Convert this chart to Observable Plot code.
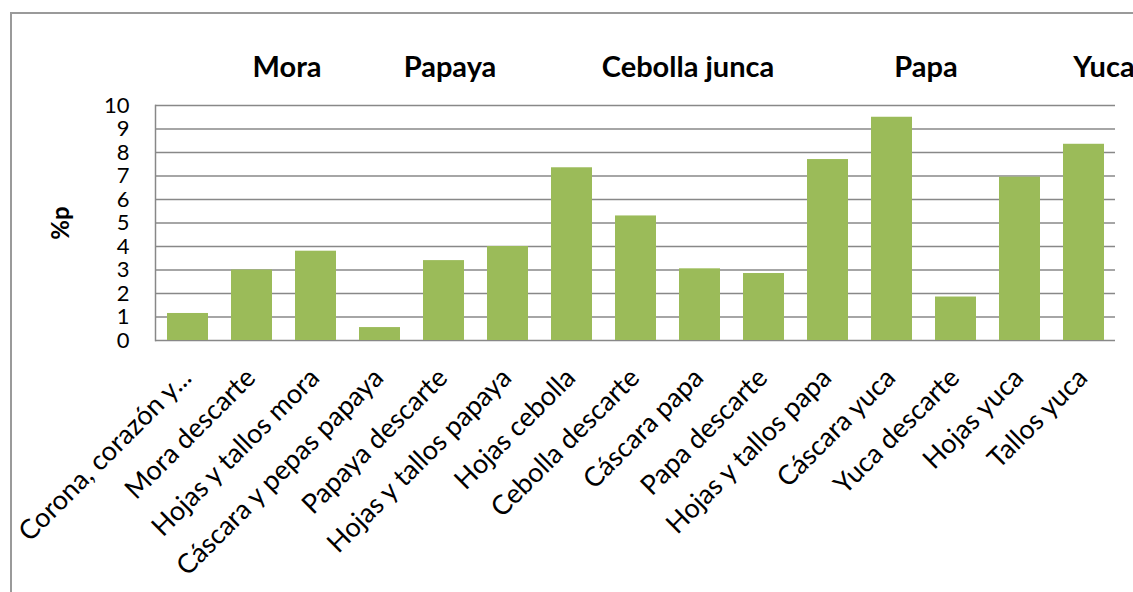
<!DOCTYPE html>
<html>
<head>
<meta charset="utf-8">
<script src="https://cdn.jsdelivr.net/npm/d3@7"></script>
<script src="https://cdn.jsdelivr.net/npm/@observablehq/plot@0.6"></script>
<style>
  html, body { margin: 0; padding: 0; background: #fff; overflow: hidden; }
  #wrap { position: relative; width: 1133px; height: 592px; overflow: hidden; }
  #border { position: absolute; left: 10px; top: 12px; width: 1300px; height: 800px;
            border-left: 2px solid #9a9a9a; border-top: 2px solid #9a9a9a; pointer-events: none; }
  #chart { position: absolute; left: 0; top: 0; }
  svg { overflow: hidden; }
</style>
</head>
<body>
<div id="wrap"><div id="chart"></div><div id="border"></div></div>
<script>
const categories = ["Corona, corazón y...", "Mora descarte", "Hojas y tallos mora", "Cáscara y pepas papaya",
  "Papaya descarte", "Hojas y tallos papaya", "Hojas cebolla", "Cebolla descarte", "Cáscara papa",
  "Papa descarte", "Hojas y tallos papa", "Cáscara yuca", "Yuca descarte", "Hojas yuca", "Tallos yuca"];
const values = [1.15, 3.0, 3.8, 0.55, 3.4, 4.0, 7.35, 5.3, 3.05, 2.85, 7.7, 9.5, 1.85, 6.95, 8.35];
const yTicks = [0, 1, 2, 3, 4, 5, 6, 7, 8, 9, 10];
const groupLabels = ["Mora", "Papaya", "Cebolla junca", "Papa", "Yuca"];
const groupAnchors = ["Mora descarte", "Papaya descarte", "Cebolla descarte", "Hojas y tallos papa", "Tallos yuca"];
const yLabel = "%p";

const data = categories.map((c, i) => ({cat: c, value: values[i]}));
const groupOffsets = [35, 6, 52, 98, 20];

const font = "Lato, 'Open Sans', sans-serif";

const chart = Plot.plot({
  width: 1133,
  height: 592,
  marginLeft: 155,
  marginRight: 18,
  marginTop: 105,
  marginBottom: 252,
  style: {fontFamily: font, background: "white", color: "black"},
  x: {domain: categories, paddingInner: 0.36, paddingOuter: 0.18, axis: null},
  y: {domain: [0, 10], axis: null},
  marks: [
    Plot.ruleY(yTicks, {stroke: "#888", strokeWidth: 1.5}),
    Plot.frame({anchor: "left", stroke: "#888", strokeWidth: 1.5}),
    Plot.barY(data, {x: "cat", y: "value", fill: "#9BBB59"}),
    Plot.text(yTicks, {y: d => d, text: d => String(d), frameAnchor: "left", textAnchor: "end",
      dx: -26, fontSize: 22, fill: "black"}),
    Plot.text(categories, {x: d => d, text: d => d, frameAnchor: "bottom", rotate: -45,
      textAnchor: "end", lineAnchor: "bottom", dx: 5, dy: 39, fontSize: 27, fill: "black"}),
    Plot.text([yLabel], {text: d => d, frameAnchor: "left", rotate: -90, dx: -94,
      textAnchor: "middle", lineAnchor: "middle", fontSize: 24, fontWeight: "bold", fill: "black"}),
    ...groupLabels.map((g, i) => Plot.text([g], {x: () => groupAnchors[i], text: d => d,
      frameAnchor: "top", lineAnchor: "bottom", textAnchor: "middle", dy: -29, dx: groupOffsets[i],
      fontSize: 29, fontWeight: "bold", fill: "black"}))
  ]
});
document.getElementById("chart").appendChild(chart);
</script>
</body>
</html>
